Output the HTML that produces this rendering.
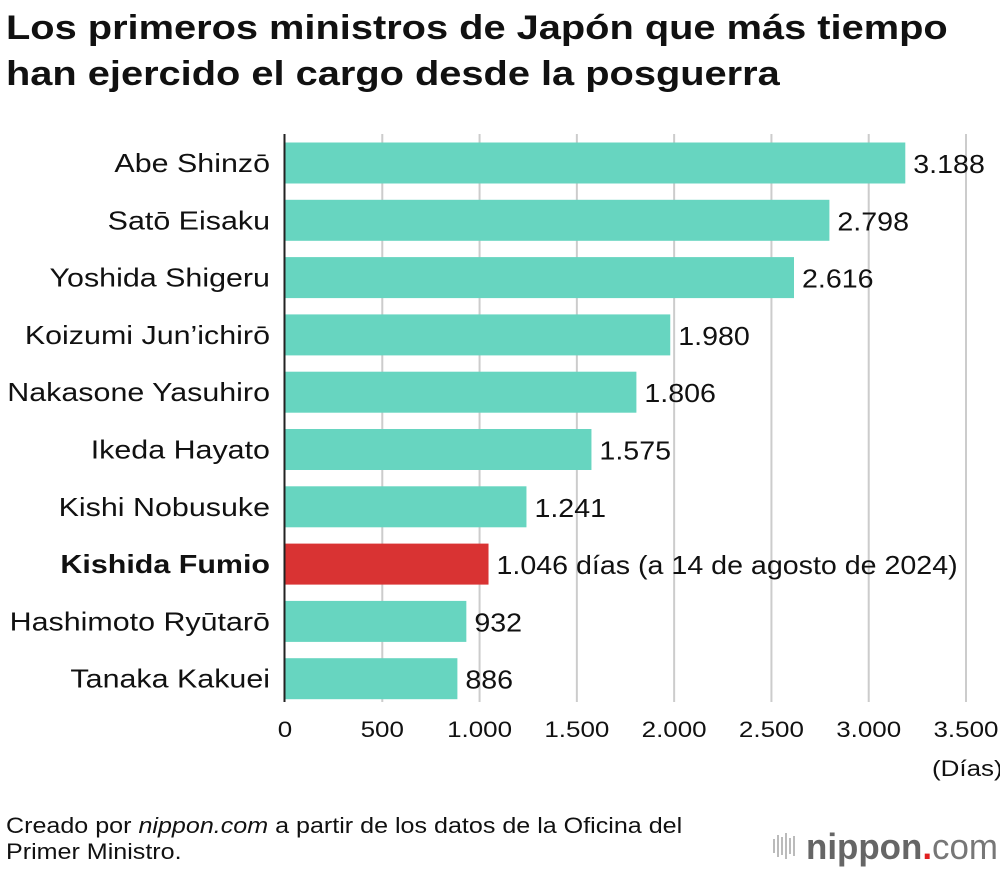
<!DOCTYPE html>
<html><head><meta charset="utf-8"><style>
body{margin:0;background:#fff;width:1000px;height:870px;overflow:hidden;font-family:"Liberation Sans",sans-serif}
</style></head><body>
<svg id="chart" width="1000" height="870" xmlns="http://www.w3.org/2000/svg" font-family="Liberation Sans, sans-serif">
<text class="st" data-k="1.17" x="6" y="39" font-size="34" font-weight="bold" fill="#111">Los primeros ministros de Japón que más tiempo</text>
<text class="st" data-k="1.17" x="6" y="85" font-size="34" font-weight="bold" fill="#111">han ejercido el cargo desde la posguerra</text>
<g id="grid"></g><g id="bars"></g><g id="ticks"></g>
<line x1="284.5" y1="134" x2="284.5" y2="702" stroke="#222" stroke-width="2"/>
<text class="st" data-k="1.18" x="932" y="776" font-size="22" fill="#111">(Días)</text>
<text class="st" data-k="1.14" x="6" y="833" font-size="22" fill="#111">Creado por <tspan font-style="italic">nippon.com</tspan> a partir de los datos de la Oficina del</text>
<text class="st" data-k="1.14" x="6" y="859" font-size="22" fill="#111">Primer Ministro.</text>
<g>
<rect x="773" y="839" width="2" height="14" fill="#bbb"/><rect x="777" y="835" width="2" height="22" fill="#bbb"/><rect x="781" y="837" width="2" height="18" fill="#bbb"/><rect x="785" y="833" width="2" height="26" fill="#bbb"/><rect x="789" y="838" width="2" height="16" fill="#bbb"/><rect x="793" y="836" width="2" height="20" fill="#bbb"/>
<text x="806" y="859" font-size="36" font-weight="bold" fill="#666" textLength="192" lengthAdjust="spacingAndGlyphs">nippon<tspan fill="#e02020">.</tspan><tspan font-weight="normal" fill="#777">com</tspan></text>
</g>
</svg>
<script>
const names=["Abe Shinzō","Satō Eisaku","Yoshida Shigeru","Koizumi Jun’ichirō","Nakasone Yasuhiro","Ikeda Hayato","Kishi Nobusuke","Kishida Fumio","Hashimoto Ryūtarō","Tanaka Kakuei"];
const days=[3188,2798,2616,1980,1806,1575,1241,1046,932,886];
const valueLabels=["3.188","2.798","2.616","1.980","1.806","1.575","1.241","1.046 días (a 14 de agosto de 2024)","932","886"];
const ticks=[0,500,1000,1500,2000,2500,3000,3500];
const tickLabels=["0","500","1.000","1.500","2.000","2.500","3.000","3.500"];
const NS="http://www.w3.org/2000/svg";
const x=v=>285+v*(681/3500);
const yc=i=>163+i*57.3;
function mk(t,a,p,txt){const e=document.createElementNS(NS,t);for(const k in a)e.setAttribute(k,a[k]);if(txt!==undefined)e.textContent=txt;document.getElementById(p).appendChild(e);return e;}
function stretch(e,k){const L=e.getComputedTextLength();e.setAttribute('textLength',L*k);e.setAttribute('lengthAdjust','spacingAndGlyphs');}
ticks.forEach((t,i)=>{
 if(t>0){const g=mk('line',{x1:x(t),x2:x(t),y1:134,y2:702,stroke:'#ccc','stroke-width':2},'grid');
 
 }
 const l=mk('text',{x:x(t),y:737,'font-size':22,'text-anchor':'middle',fill:'#111'},'ticks',tickLabels[i]);
 
 
 stretch(l,1.18);
});
names.forEach((n,i)=>{
 const hl=n==="Kishida Fumio";
 const r=mk('rect',{x:285,y:yc(i)-20.5,width:x(days[i])-285,height:41,fill:hl?'#d93333':'#67d5c0'},'bars');
 
 
 const c=mk('text',{x:270,y:yc(i)+9,'font-size':26,'text-anchor':'end',fill:'#111','font-weight':hl?'bold':'normal'},'bars',n);
 
 
 stretch(c,1.17);
 const v=mk('text',{x:x(days[i])+8,y:yc(i)+10,'font-size':26,fill:'#111'},'bars',valueLabels[i]);
 
 
 stretch(v,1.10);
});
document.querySelectorAll('.st').forEach(e=>stretch(e,+e.getAttribute('data-k')));
</script>
</body></html>
